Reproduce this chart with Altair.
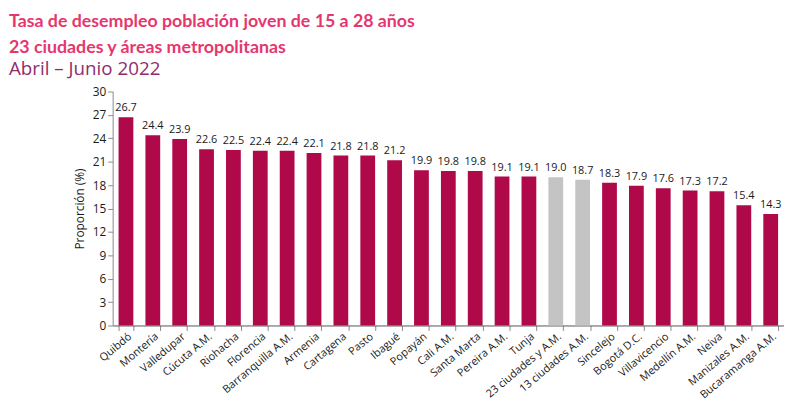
import altair as alt
import pandas as pd

cities = ["Quibdó", "Montería", "Valledupar", "Cúcuta A.M.", "Riohacha", "Florencia",
          "Barranquilla A.M.", "Armenia", "Cartagena", "Pasto", "Ibagué", "Popayán",
          "Cali A.M.", "Santa Marta", "Pereira A.M.", "Tunja", "23 ciudades y A.M.",
          "13 ciudades A.M.", "Sincelejo", "Bogotá D.C.", "Villavicencio", "Medellín A.M.",
          "Neiva", "Manizales A.M.", "Bucaramanga A.M."]
values = [26.7, 24.4, 23.9, 22.6, 22.5, 22.4, 22.4, 22.1, 21.8, 21.8, 21.2, 19.9,
          19.8, 19.8, 19.1, 19.1, 19.0, 18.7, 18.3, 17.9, 17.6, 17.3, 17.2, 15.4, 14.3]
groups = ["total" if c.startswith(("23 ciudades", "13 ciudades")) else "ciudad" for c in cities]
y_ticks = list(range(0, 31, 3))

df = pd.DataFrame({"ciudad": cities, "valor": values, "grupo": groups})
df["etiqueta"] = df["valor"].map(lambda v: f"{v:.1f}")

FONT = "Open Sans"

base = alt.Chart(df).encode(
    x=alt.X("ciudad:N", sort=cities,
            scale=alt.Scale(paddingInner=0.45, paddingOuter=0.22),
            axis=alt.Axis(title=None, labelAngle=-40, labelAlign="right", labelBaseline="top",
                          labelFontSize=11, labelColor="#1a1a1a", labelFont=FONT,
                          tickBand="extent", tickColor="#888", domainColor="#555",
                          tickSize=5, labelPadding=0, labelOverlap=False)),
    y=alt.Y("valor:Q", scale=alt.Scale(domain=[0, 30]),
            axis=alt.Axis(title="Proporción (%)", values=y_ticks, labelOverlap=False,
                          grid=False, labelFontSize=12, labelColor="#1a1a1a", labelFont=FONT,
                          titleFont=FONT, titleFontSize=12, titleFontWeight="normal",
                          titleColor="#1a1a1a", tickColor="#888", domainColor="#888",
                          tickSize=5, titlePadding=6)),
)

bars = base.mark_bar().encode(
    color=alt.Color("grupo:N", scale=alt.Scale(domain=["ciudad", "total"],
                                               range=["#B0094A", "#C4C4C4"]), legend=None),
)

labels = base.mark_text(dy=-9, fontSize=11, font=FONT, color="#1a1a1a").encode(
    text="etiqueta:N"
)

chart = alt.layer(bars, labels).properties(
    width=680, height=237,
    title=alt.Title(
        ["Tasa de desempleo población joven de 15 a 28 años",
         "23 ciudades y áreas metropolitanas"],
        subtitle="Abril – Junio 2022",
        anchor="start", frame="group", dx=-105, offset=7,
        font="Lato", fontSize=18, fontWeight="bold", color="#E6366F", lineHeight=26,
        subtitleFont=FONT, subtitleFontSize=19, subtitleColor="#8E2C6E",
        subtitlePadding=3,
    ),
    autosize="none",
    padding={"left": 106, "top": 82, "right": 0, "bottom": 80},
).configure_view(stroke=None)

chart.save("out.html", embed_options={"renderer": "svg", "actions": False})
